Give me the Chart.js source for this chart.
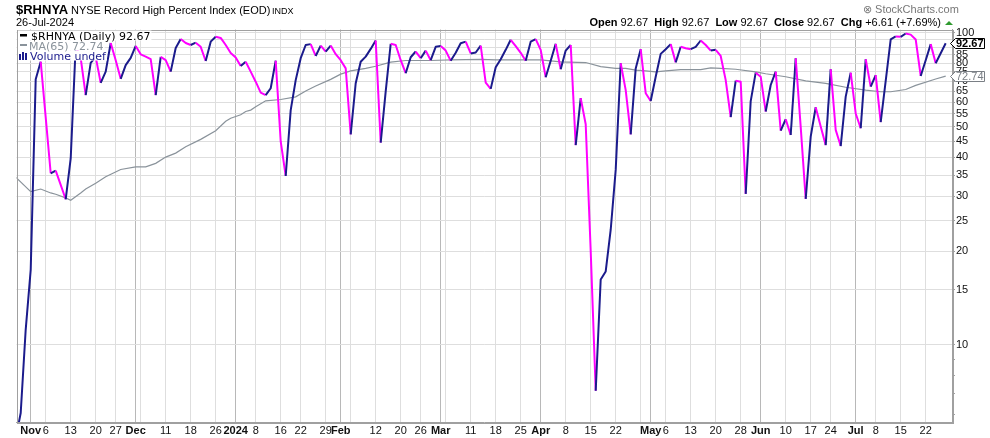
<!DOCTYPE html>
<html>
<head>
<meta charset="utf-8">
<script src="https://cdn.jsdelivr.net/npm/chart.js@4.4.1/dist/chart.umd.min.js"></script>
<style>
  html, body { margin: 0; padding: 0; background: #fff; }
  #wrap { width: 990px; height: 438px; position: relative; }
</style>
</head>
<body>
<div id="wrap"><canvas id="graphique"></canvas></div>
<script>
// Jours de bourse : du 27 oct. 2023 au 26 juil. 2024 (jours fériés NYSE exclus)
const premierJour = "2023-10-27";
const dernierJour = "2024-07-26";
const joursFeries = ["2023-11-23", "2023-12-25", "2024-01-01", "2024-01-15", "2024-02-19",
                     "2024-03-29", "2024-05-27", "2024-06-19", "2024-07-04"];

// $RHNYA clôture quotidienne, un point par jour de bourse
const valeurs = [
  5.0, 6.05, 11.2, 17.4, 71.1, 80.9, 53.6, 35.5, 36.2, 32.6,
  29.3, 39.6, 91, 83, 63.2, 80.2, 83.8, 69.2, 75.2, 92.9,
  81.8, 71.3, 78.9, 83.2, 90.9, 85.4, 84.0, 82.4, 63.2, 83.8,
  81.8, 75.2, 89.5, 95.7, 92.9, 91.5, 93.1, 90.3, 81.3, 93.8,
  97.3, 96.4, 91.5, 86.3, 83.5, 78.3, 80.9, 75.2, 69.8, 64.4,
  63.2, 66.5, 81.5, 44.9, 34.8, 56.6, 70.6, 83.0, 91.5, 92.1,
  84.4, 91.1, 87.2, 91.1, 85.5, 81.8, 77.0, 47.3, 69.0, 80.9,
  84.0, 88.9, 94.6, 44.5, 65.0, 92.3, 91.5, 81.8, 74.3, 83.6,
  87.2, 83.0, 87.8, 81.8, 90.3, 90.8, 87.8, 81.5, 86.4, 92.7,
  93.8, 86.0, 86.6, 91.1, 69.3, 66.2, 77.6, 82.4, 88.3, 95.1,
  90.8, 86.4, 81.5, 93.8, 95.6, 88.3, 72.1, 81.5, 92.3, 76.5,
  87.8, 91.5, 43.7, 61.8, 51.0, 20.0, 7.13, 16.2, 17.2, 23.4,
  36.4, 80.0, 65.6, 47.3, 77.0, 88.7, 64.1, 60.5, 72.4, 85.7,
  88.7, 92.1, 80.5, 90.3, 89.3, 88.7, 90.3, 94.6, 91.5, 87.8,
  88.3, 84.4, 70.6, 53.7, 70.3, 69.8, 30.5, 60.5, 74.6, 72.4,
  56.0, 68.1, 75.2, 48.6, 52.9, 47.1, 83.0, 50.0, 29.4, 46.5,
  57.8, 50.1, 43.7, 76.5, 48.9, 43.4, 62.5, 74.6, 55.2, 49.5,
  82.4, 67.3, 73.3, 51.8, 70.2, 95.4, 97.5, 97.2, 99.6, 98.8,
  95.3, 72.8, 81.8, 92.1, 80.0, 86.06, 92.67
];

// Moyenne mobile 65 jours : positions (rang du jour de bourse) et valeurs lues
const mmJours = [0, 3, 5, 7, 8, 10, 11, 13, 14, 16, 18, 21, 24, 26, 28, 30, 32, 34, 37, 40,
                 42, 43, 45, 46, 47, 48, 50, 53, 56, 58, 60, 63, 65, 67, 70, 72, 75, 78, 83, 87,
                 93, 96, 105, 109, 114, 117, 120, 122, 124, 126, 128, 130, 133, 137, 139, 141, 144, 148, 150, 154,
                 158, 162, 166, 170, 173, 175, 178, 180, 184, 186];
const mmValeurs = [34.5, 31, 31.6, 30.7, 30.4, 29.6, 29.1, 30.7, 31.6, 33, 34.6, 36.5, 37.2, 37.2, 38.2, 40.0, 41.2, 43.2, 45.6, 48.6,
                   52.1, 53.3, 54.7, 56, 56.6, 58.0, 60.6, 61.2, 62.4, 65.2, 67.6, 71, 73.8, 75.6, 77, 78.2, 80.6, 81.6, 81.6, 82,
                   82.3, 82, 82, 80.8, 80.4, 78, 77, 77, 76, 75.6, 75, 75.6, 76.3, 76.3, 77.3, 77, 76.5, 75, 74, 72.4,
                   70.2, 68.9, 67, 65.6, 64.8, 64.8, 65.9, 67.9, 71.2, 72.74];

// Graduations de l'axe des valeurs (échelle logarithmique)
const yGraduations = [6, 7, 8, 9, 10, 15, 20, 25, 30, 35, 40, 45, 50, 55, 60, 65, 70, 75, 80, 85, 90, 95, 100];
const yEtiquettes = [10, 15, 20, 25, 30, 35, 40, 45, 50, 55, 60, 65, 70, 75, 80, 85, 100];
const nomsMois = ["Jan", "Feb", "Mar", "Apr", "May", "Jun", "Jul", "Aug", "Sep", "Oct", "Nov", "Dec"];

const NAVY = "#1b1b8c";
const MAGENTA = "#ff00ff";
const GRIS_MM = "#8a939b";

// Construction de la liste des jours de bourse
function joursDeBourse() {
    const jours = [];
    const d = new Date(premierJour + "T00:00:00Z");
    const fin = new Date(dernierJour + "T00:00:00Z");
    while (d <= fin) {
        const jour = d.getUTCDay();
        const iso = d.toISOString().slice(0, 10);
        if (jour !== 0 && jour !== 6 && !joursFeries.includes(iso)) {
            jours.push(new Date(d));
        }
        d.setUTCDate(d.getUTCDate() + 1);
    }
    return jours;
}
const jours = joursDeBourse();

// Repères de l'axe du temps : début de mois (gras) et début de semaine
const debutMois = new Set();
const debutSemaine = new Set();
const etiquettesX = new Map();
for (let i = 3; i < jours.length; i++) {
    const d = jours[i];
    const prec = jours[i - 1];
    if (d.getUTCMonth() !== prec.getUTCMonth()) {
        debutMois.add(i);
        const m = d.getUTCMonth();
        etiquettesX.set(i, m === 0 ? String(d.getUTCFullYear()) : nomsMois[m]);
    } else if (d.getUTCDay() < prec.getUTCDay()) {
        debutSemaine.add(i);
    }
}
// numéro de semaine, sauf si un début de mois est à deux jours ou moins
for (const i of debutSemaine) {
    let proche = false;
    for (let k = -2; k <= 2; k++) if (debutMois.has(i + k)) proche = true;
    if (!proche) etiquettesX.set(i, String(jours[i].getUTCDate()));
}

const serie = valeurs.map((v, i) => ({ x: i, y: v }));
const serieMM = mmJours.map((j, k) => ({ x: j, y: mmValeurs[k] }));

const POLICE = '"Liberation Sans", Arial, sans-serif';

// En-tête, légende et étiquettes de valeur
const decor = {
    id: "decor",
    afterDatasetsDraw(chart) {
        const ctx = chart.ctx;
        const zone = chart.chartArea;
        ctx.save();
        ctx.strokeStyle = "#a0a0a0";
        ctx.lineWidth = 1;
        ctx.strokeRect(Math.round(zone.left) + 0.5, Math.round(zone.top) + 0.5,
                       Math.round(zone.right - zone.left), Math.round(zone.bottom - zone.top));

        // légende
        ctx.font = '11px "DejaVu Sans", sans-serif';
        ctx.textBaseline = "alphabetic";
        const lignes = [
            { txt: "$RHNYA (Daily) 92.67", x: 31, y: 39.5, couleur: "#000" },
            { txt: "MA(65) 72.74", x: 29, y: 49.5, couleur: GRIS_MM },
            { txt: "Volume undef", x: 30, y: 59.5, couleur: NAVY }
        ];
        for (const l of lignes) {
            const w = ctx.measureText(l.txt).width;
            ctx.fillStyle = "#fff";
            ctx.fillRect(18, l.y - 9, l.x - 18 + w + 1, 10);
        }
        for (const l of lignes) {
            ctx.fillStyle = l.couleur;
            ctx.fillText(l.txt, l.x, l.y);
        }
        ctx.fillStyle = "#000";
        ctx.fillRect(20, 34, 7, 2.5);
        ctx.fillStyle = GRIS_MM;
        ctx.fillRect(20, 44, 7, 2);
        ctx.fillStyle = NAVY;
        ctx.fillRect(19, 54, 2, 6);
        ctx.fillRect(22, 52, 2, 8);
        ctx.fillRect(25, 53, 2, 7);
        ctx.restore();
    },
    afterDraw(chart) {
        const ctx = chart.ctx;
        ctx.save();
        ctx.textBaseline = "alphabetic";
        ctx.fillStyle = "#000";
        ctx.font = "bold 13px " + POLICE;
        ctx.fillText("$RHNYA", 16, 14);
        ctx.font = "11px " + POLICE;
        ctx.fillText("NYSE Record High Percent Index (EOD)", 71, 13.5);
        ctx.font = "9px " + POLICE;
        ctx.fillText("INDX", 272, 13.5);
        ctx.font = "11px " + POLICE;
        ctx.fillText("26-Jul-2024", 16, 26);

        ctx.fillStyle = "#777";
        ctx.fillText("\u2297 StockCharts.com", 863, 13);

        // Open / High / Low / Close / Chg
        const morceaux = [["Open", true], [" 92.67  ", false], ["High", true], [" 92.67  ", false],
                          ["Low", true], [" 92.67  ", false], ["Close", true], [" 92.67  ", false],
                          ["Chg", true], [" +6.61 (+7.69%)", false]];
        let total = 0;
        for (const [t, gras] of morceaux) {
            ctx.font = (gras ? "bold " : "") + "11px " + POLICE;
            total += ctx.measureText(t).width;
        }
        let x = 941 - total;
        ctx.fillStyle = "#000";
        for (const [t, gras] of morceaux) {
            ctx.font = (gras ? "bold " : "") + "11px " + POLICE;
            ctx.fillText(t, x, 26);
            x += ctx.measureText(t).width;
        }
        ctx.fillStyle = "#2f9a2f";
        ctx.beginPath();
        ctx.moveTo(945, 25);
        ctx.lineTo(953, 25);
        ctx.lineTo(949, 21);
        ctx.closePath();
        ctx.fill();

        // étiquettes de dernière valeur sur l'axe
        const echelle = chart.scales.y;
        function etiquette(val, txt, couleur, gras) {
            const y = Math.round(echelle.getPixelForValue(val)) + 0.5;
            ctx.beginPath();
            ctx.moveTo(950.5, y);
            ctx.lineTo(955.5, y - 5);
            ctx.lineTo(984.5, y - 5);
            ctx.lineTo(984.5, y + 5);
            ctx.lineTo(955.5, y + 5);
            ctx.closePath();
            ctx.fillStyle = "#fff";
            ctx.fill();
            ctx.strokeStyle = couleur;
            ctx.lineWidth = 1;
            ctx.stroke();
            ctx.fillStyle = couleur;
            ctx.font = (gras ? "bold " : "") + "11px " + POLICE;
            ctx.textBaseline = "middle";
            ctx.fillText(txt, 956, y + 0.5);
        }
        etiquette(mmValeurs[mmValeurs.length - 1], "72.74", "#7a7f85", false);
        etiquette(valeurs[valeurs.length - 1], "92.67", "#000", true);
        ctx.restore();
    }
};

const config = {
    type: "line",
    data: {
        datasets: [
            {
                label: "$RHNYA (Daily)",
                data: serie,
                borderWidth: 2,
                borderColor: NAVY,
                pointRadius: 0,
                tension: 0,
                borderJoinStyle: "round",
                order: 0,
                segment: {
                    borderColor: c => c.p1.parsed.y < c.p0.parsed.y ? MAGENTA : NAVY
                }
            },
            {
                label: "MA(65)",
                data: serieMM,
                borderWidth: 1.2,
                borderColor: GRIS_MM,
                pointRadius: 0,
                tension: 0,
                order: 1
            }
        ]
    },
    options: {
        responsive: true,
        maintainAspectRatio: false,
        animation: false,
        events: [],
        layout: { padding: { top: 29.5, left: 16.5, right: 0, bottom: 0 } },
        plugins: { legend: { display: false }, tooltip: { enabled: false } },
        scales: {
            x: {
                type: "linear",
                min: 0.16,
                max: 187.26,
                afterBuildTicks: s => {
                    const t = [];
                    for (let i = 1; i < jours.length; i++) t.push({ value: i });
                    s.ticks = t;
                },
                afterFit: s => { s.height = 16; },
                grid: {
                    color: c => {
                        const v = c.tick ? c.tick.value : -1;
                        if (debutMois.has(v)) return "#b8b8b8";
                        if (debutSemaine.has(v)) return "#dedede";
                        return "rgba(0,0,0,0)";
                    },
                    tickColor: "#c8c8c8",
                    tickLength: 2,
                    lineWidth: 1
                },
                border: { color: "#a0a0a0" },
                ticks: {
                    autoSkip: false,
                    maxRotation: 0,
                    minRotation: 0,
                    padding: 0,
                    color: "#111",
                    callback: v => etiquettesX.get(v) || "",
                    font: c => ({
                        family: POLICE,
                        size: 11,
                        weight: c.tick && debutMois.has(c.tick.value) ? "bold" : "normal"
                    })
                }
            },
            y: {
                type: "logarithmic",
                position: "right",
                min: 5.66,
                max: 102.6,
                afterBuildTicks: s => { s.ticks = yGraduations.map(v => ({ value: v })); },
                afterFit: s => { s.width = 38; },
                grid: {
                    color: c => (c.tick && c.tick.value >= 10 ? "#dedede" : "rgba(0,0,0,0)"),
                    tickColor: "#a0a0a0",
                    tickLength: 3
                },
                border: { color: "#a0a0a0" },
                ticks: {
                    autoSkip: false,
                    padding: 1,
                    color: "#111",
                    font: { family: POLICE, size: 11 },
                    callback: v => (yEtiquettes.includes(v) ? String(v) : "")
                }
            }
        }
    },
    plugins: [decor]
};

const graphique = new Chart(document.getElementById("graphique"), config);
</script>
</body>
</html>
